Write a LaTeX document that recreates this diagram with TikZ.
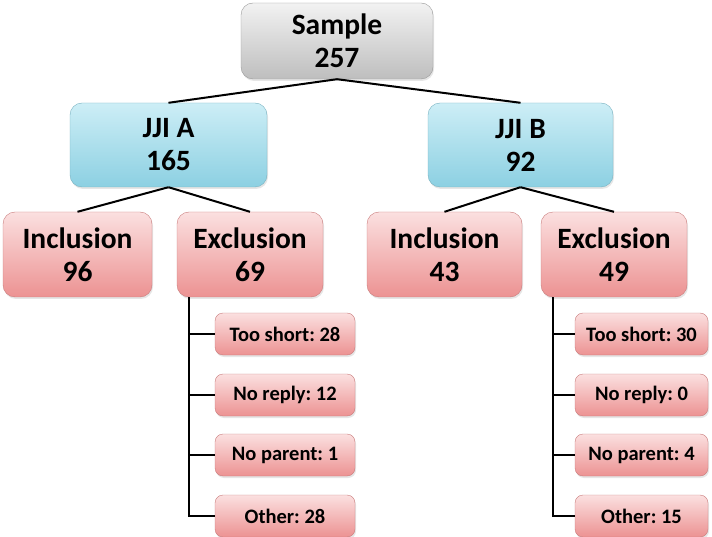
\documentclass[tikz,border=0pt]{standalone}
\usepackage{fontspec}
\setmainfont{Carlito}
\usepackage{tikz}
\usetikzlibrary{shadows, calc}
\definecolor{greyTop}{RGB}{242, 242, 242}
\definecolor{greyBot}{RGB}{190, 190, 190}
\definecolor{blueTop}{RGB}{205, 238, 246}
\definecolor{blueBot}{RGB}{140, 208, 226}
\definecolor{pinkTop}{RGB}{251, 224, 224}
\definecolor{pinkBot}{RGB}{236, 146, 146}
\frenchspacing

\begin{document}
\begin{tikzpicture}[x=1pt, y=-1pt,
    box/.style={rounded corners=12pt, inner sep=0pt, align=center,
                font=\fontsize{29.5}{33}\selectfont\bfseries,
                drop shadow={opacity=0.2, shadow xshift=1pt, shadow yshift=-2pt}},
    greybox/.style={box, draw=gray!80, top color=greyTop, bottom color=greyBot},
    bluebox/.style={box, draw=blueBot!85!black, top color=blueTop, bottom color=blueBot},
    pinkbox/.style={box, draw=pinkBot!85!black, top color=pinkTop, bottom color=pinkBot},
    reason/.style={pinkbox, rounded corners=8pt, minimum height=42pt,
                   font=\fontsize{20.5}{24}\selectfont\bfseries},
    link/.style={black, line width=2pt}]

  \useasboundingbox (0,0) rectangle (712,537);

  % ── Racine et groupes ──
  \node[greybox, minimum width=192pt, minimum height=76pt] (sample) at (337,41) {Sample\\257};
  \node[bluebox, minimum width=197pt, minimum height=84pt] (jjiA) at (168.5,145) {JJI A\\165};
  \node[bluebox, minimum width=185pt, minimum height=84pt] (jjiB) at (520.5,145) {JJI B\\92};

  % ── Inclusion / Exclusion ──
  \node[pinkbox, minimum width=149pt, minimum height=85pt] (inclA) at (77.5,254.5) {Inclusion\\96};
  \node[pinkbox, minimum width=146pt, minimum height=85pt] (exclA) at (250,254.5) {Exclusion\\69};
  \node[pinkbox, minimum width=155pt, minimum height=85pt] (inclB) at (444.5,254.5) {Inclusion\\43};
  \node[pinkbox, minimum width=146pt, minimum height=85pt] (exclB) at (614,254.5) {Exclusion\\49};

  % ── Motifs d'exclusion ──
  \node[reason, minimum width=140pt] (shortA)  at (285,334) {Too short: 28};
  \node[reason, minimum width=140pt] (replyA)  at (285,395) {No reply: 12};
  \node[reason, minimum width=140pt] (parentA) at (285,455) {No parent: 1};
  \node[reason, minimum width=140pt] (otherA)  at (285,516) {Other: 28};

  \node[reason, minimum width=133pt] (shortB)  at (641.5,334) {Too short: 30};
  \node[reason, minimum width=133pt] (replyB)  at (641.5,395) {No reply: 0};
  \node[reason, minimum width=133pt] (parentB) at (641.5,455) {No parent: 4};
  \node[reason, minimum width=133pt] (otherB)  at (641.5,516) {Other: 15};

  % ── Liens ──
  \draw[link] (sample.south) -- (jjiA.north);
  \draw[link] (sample.south) -- (jjiB.north);
  \draw[link] (jjiA.south) -- (inclA.north);
  \draw[link] (jjiA.south) -- (exclA.north);
  \draw[link] (jjiB.south) -- (inclB.north);
  \draw[link] (jjiB.south) -- (exclB.north);

  \coordinate (trunkA) at ([xshift=12pt]exclA.south west);
  \coordinate (trunkB) at ([xshift=12pt]exclB.south west);
  \foreach \r in {shortA, replyA, parentA, otherA}
    \draw[link] (trunkA) |- (\r.west);
  \foreach \r in {shortB, replyB, parentB, otherB}
    \draw[link] (trunkB) |- (\r.west);

\end{tikzpicture}
\end{document}
